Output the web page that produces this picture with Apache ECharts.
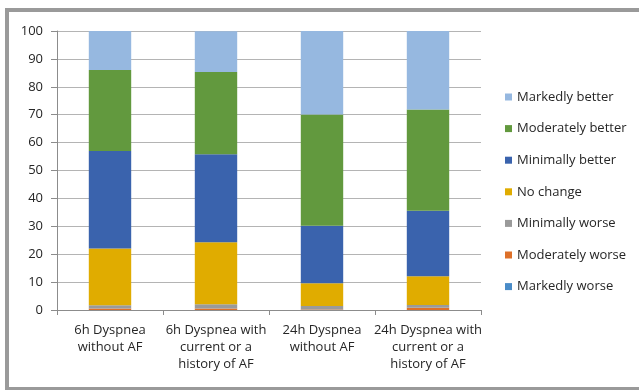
<!DOCTYPE html>
<html><head><meta charset="utf-8">
<script src="https://cdn.jsdelivr.net/npm/echarts@6/dist/echarts.min.js"></script>
<style>html,body{margin:0;padding:0;background:#fff}#c{width:639px;height:390px}</style>
</head><body><div id="c"></div>
<script>
const categories = ["6h Dyspnea\nwithout AF", "6h Dyspnea with\ncurrent or a\nhistory of AF", "24h Dyspnea\nwithout AF", "24h Dyspnea with\ncurrent or a\nhistory of AF"];
const markedlyWorse   = [0.0, 0.0, 0.0, 0.0];
const moderatelyWorse = [0.5, 0.5, 0.2, 0.8];
const minimallyWorse  = [1.2, 1.6, 1.2, 1.0];
const noChange        = [20.3, 22.2, 8.2, 10.3];
const minimallyBetter = [35.0, 31.5, 20.6, 23.5];
const moderatelyBetter= [29.0, 29.5, 39.9, 36.3];
const markedlyBetter  = [14.0, 14.6, 29.9, 28.1];
const yTicks = [0, 10, 20, 30, 40, 50, 60, 70, 80, 90, 100];

const seriesDefs = [
  ["Markedly worse", markedlyWorse, "#4A8CC8"],
  ["Moderately worse", moderatelyWorse, "#DD7029"],
  ["Minimally worse", minimallyWorse, "#9A9A9A"],
  ["No change", noChange, "#E0AC00"],
  ["Minimally better", minimallyBetter, "#3A63AD"],
  ["Moderately better", moderatelyBetter, "#62993E"],
  ["Markedly better", markedlyBetter, "#96B8E0"]
];
const font = "'Open Sans', 'Liberation Sans', sans-serif";
const chart = echarts.init(document.getElementById('c'), null, {renderer: 'canvas'});
chart.setOption({
  animation: false,
  textStyle: {fontFamily: font},
  graphic: [{type: 'rect', shape: {x: 7, y: 10, width: 650, height: 379}, style: {fill: 'none', stroke: '#9a9a9a', lineWidth: 4}}],
  grid: {left: 57, right: 158, top: 31, bottom: 80},
  legend: {
    orient: 'vertical', left: 505, top: 89, padding: 0,
    itemWidth: 7, itemHeight: 7, itemGap: 15.6,
    icon: 'rect',
    data: seriesDefs.map(s => s[0]).reverse(),
    textStyle: {fontSize: 13, color: '#262626', lineHeight: 16, fontFamily: font}
  },
  xAxis: {
    type: 'category', data: categories,
    axisLine: {lineStyle: {color: '#8c8c8c'}},
    axisTick: {show: true, length: 5, lineStyle: {color: '#8c8c8c'}},
    axisLabel: {interval: 0, fontSize: 13, color: '#262626', lineHeight: 17, margin: 12, fontFamily: font}
  },
  yAxis: {
    type: 'value', min: 0, max: 100, interval: 10,
    axisLine: {show: true, lineStyle: {color: '#8c8c8c'}},
    axisTick: {show: true, length: 6, lineStyle: {color: '#8c8c8c'}},
    splitLine: {lineStyle: {color: '#b4b4b4'}},
    axisLabel: {fontSize: 13, color: '#262626', margin: 14, fontFamily: font,
      formatter: v => yTicks.includes(v) ? String(v) : ''}
  },
  series: seriesDefs.map(([name, data, color]) => ({
    name, type: 'bar', stack: 'total', data, barWidth: '40%',
    itemStyle: {color}
  }))
});
</script></body></html>
